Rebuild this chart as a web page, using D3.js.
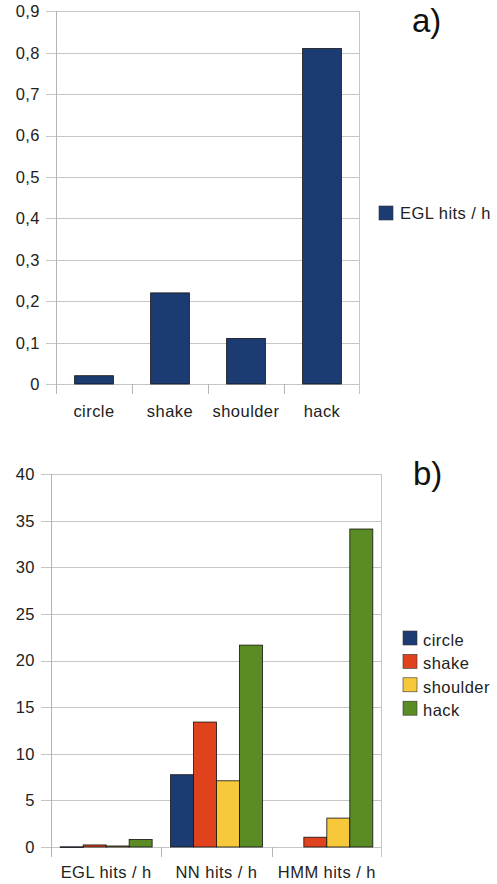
<!DOCTYPE html>
<html>
<head>
<meta charset="utf-8">
<script src="https://cdn.jsdelivr.net/npm/d3@7"></script>
<style>
  html, body { margin: 0; padding: 0; background: #fff; }
  svg { display: block; font-family: "Liberation Sans", Arial, sans-serif; }
  .lbl { font-size: 16.5px; letter-spacing: 0.45px; fill: #222; }
</style>
</head>
<body>
<svg id="chart" width="497" height="884"></svg>
<script>
(function () {
    // --- data ---
    const gestures = ["circle", "shake", "shoulder", "hack"];
    const eglRate = [0.02, 0.22, 0.11, 0.81];            // panel a, EGL hits / h

    const methods = ["EGL hits / h", "NN hits / h", "HMM hits / h"];
    const circleHits = [0.02, 7.75, 0];
    const shakeHits = [0.22, 13.4, 1.05];
    const shoulderHits = [0.11, 7.1, 3.1];
    const hackHits = [0.81, 21.65, 34.1];

    const ticksA = [0, 0.1, 0.2, 0.3, 0.4, 0.5, 0.6, 0.7, 0.8, 0.9];
    const ticksB = [0, 5, 10, 15, 20, 25, 30, 35, 40];

    const colors = { circle: "#1c3b72", shake: "#e0421e", shoulder: "#f6c83a", hack: "#5b8c23" };

    const svg = d3.select("#chart");
    const gridColor = "#c6c6c6";
    const axisColor = "#b4b4b4";
    const comma = d3.formatLocale({ decimal: ",", thousands: ".", grouping: [3], currency: ["", ""] });
    const fmtA = d => d === 0 ? "0" : comma.format(".1f")(d);

    function frame(g, x, y, ticks, fmt, left, right, top, bottom) {
        // horizontal grid
        g.append("g").selectAll("line").data(ticks).join("line")
            .attr("x1", left - 10).attr("x2", right)
            .attr("y1", d => Math.round(y(d)) + 0.5).attr("y2", d => Math.round(y(d)) + 0.5)
            .attr("stroke", gridColor).attr("stroke-width", 1);
        // y labels
        g.append("g").selectAll("text").data(ticks).join("text")
            .attr("class", "lbl")
            .attr("x", left - 16).attr("y", d => y(d))
            .attr("dy", "0.36em").attr("text-anchor", "end")
            .text(fmt);
        // y axis line + right border
        g.append("line").attr("x1", left + 0.5).attr("x2", left + 0.5)
            .attr("y1", top).attr("y2", bottom + 10)
            .attr("stroke", axisColor);
        g.append("line").attr("x1", right - 0.5).attr("x2", right - 0.5)
            .attr("y1", top).attr("y2", bottom + 10)
            .attr("stroke", gridColor);
        // category separators
        const seps = x.domain().slice(1).map(d => x(d));
        g.append("g").selectAll("line").data(seps).join("line")
            .attr("x1", d => Math.round(d) + 0.5).attr("x2", d => Math.round(d) + 0.5)
            .attr("y1", bottom).attr("y2", bottom + 10)
            .attr("stroke", axisColor);
    }

    // === panel a ===
    {
        const left = 56, right = 360, top = 11, bottom = 384;
        const g = svg.append("g");
        const x = d3.scaleBand().domain(gestures).range([left, right]).paddingInner(0).paddingOuter(0);
        const y = d3.scaleLinear().domain([0, 0.9]).range([bottom, top + 0.3]);
        frame(g, x, y, ticksA, fmtA, left, right, top, bottom);

        const bw = x.bandwidth() * 0.51;
        g.append("g").selectAll("rect").data(eglRate).join("rect")
            .attr("x", (d, i) => x(gestures[i]) + (x.bandwidth() - bw) / 2)
            .attr("y", d => y(d))
            .attr("width", bw)
            .attr("height", d => y(0) - y(d))
            .attr("fill", colors.circle)
            .attr("stroke", "#111").attr("stroke-width", 0.8);

        g.append("g").selectAll("text").data(gestures).join("text")
            .attr("class", "lbl")
            .attr("x", d => x(d) + x.bandwidth() / 2).attr("y", 411)
            .attr("dy", "0.36em").attr("text-anchor", "middle")
            .text(d => d);

        const lg = g.append("g").attr("transform", "translate(379,206)");
        lg.append("rect").attr("width", 14).attr("height", 14)
            .attr("fill", colors.circle).attr("stroke", "#333").attr("stroke-width", 0.6);
        lg.append("text").attr("class", "lbl").attr("x", 21).attr("y", 7).attr("dy", "0.36em")
            .text("EGL hits / h");

        svg.append("text").attr("x", 412).attr("y", 32)
            .style("font-size", "33px").attr("fill", "#111").text("a)");
    }

    // === panel b ===
    {
        const left = 51, right = 382, top = 474, bottom = 847;
        const g = svg.append("g");
        const x = d3.scaleBand().domain(methods).range([left, right]).paddingInner(0).paddingOuter(0);
        const inner = d3.scaleBand().domain(gestures).range([0, x.bandwidth()]).paddingOuter(0.4).paddingInner(0);
        const y = d3.scaleLinear().domain([0, 40]).range([bottom, top]);
        frame(g, x, y, ticksB, d => d, left, right, top, bottom);

        const series = [circleHits, shakeHits, shoulderHits, hackHits];
        const rows = [];
        methods.forEach((m, i) => gestures.forEach((s, j) => rows.push({ m, s, v: series[j][i] })));

        g.append("g").selectAll("rect").data(rows.filter(r => r.v > 0)).join("rect")
            .attr("x", d => x(d.m) + inner(d.s))
            .attr("y", d => y(d.v))
            .attr("width", inner.bandwidth())
            .attr("height", d => Math.max(y(0) - y(d.v), 0.6))
            .attr("fill", d => colors[d.s])
            .attr("stroke", "#111").attr("stroke-width", 0.8);

        g.append("g").selectAll("text").data(methods).join("text")
            .attr("class", "lbl")
            .attr("x", d => x(d) + x.bandwidth() / 2).attr("y", 872)
            .attr("dy", "0.36em").attr("text-anchor", "middle")
            .text(d => d);

        const lg = g.append("g").attr("transform", "translate(403,631)");
        const item = lg.selectAll("g").data(gestures).join("g")
            .attr("transform", (d, i) => `translate(0,${i * 23.4})`);
        item.append("rect").attr("width", 14).attr("height", 14)
            .attr("fill", d => colors[d]).attr("stroke", "#333").attr("stroke-width", 0.6);
        item.append("text").attr("class", "lbl").attr("x", 20).attr("y", 9).attr("dy", "0.36em")
            .text(d => d);

        svg.append("text").attr("x", 413).attr("y", 485)
            .style("font-size", "33px").attr("fill", "#111").text("b)");
    }
})();
</script>
</body>
</html>
